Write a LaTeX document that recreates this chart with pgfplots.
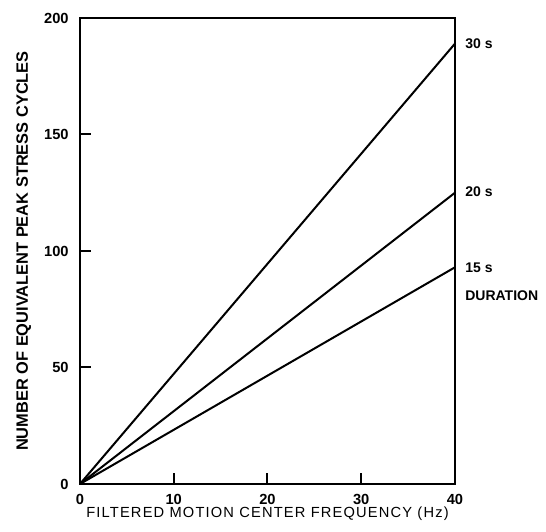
\documentclass[border=0pt]{standalone}
\usepackage{fontspec}
\setmainfont{Liberation Sans}
\usepackage{pgfplots}
\pgfplotsset{compat=1.18}

\begin{document}
\begin{tikzpicture}
\begin{axis}[
  scale only axis,
  width=281.25pt, height=349.5pt,
  xmin=0, xmax=40, ymin=0, ymax=200,
  xtick={0,10,20,30,40}, ytick={0,50,100,150,200},
  tick align=inside,
  xtick pos=bottom, ytick pos=left,
  major tick length=8pt,
  major tick style={line width=1.5pt, black},
  axis line style={line width=1.5pt},
  /pgf/number format/assume math mode=true,
  ticklabel style={font=\bfseries\fontsize{11}{13}\selectfont},
  xticklabel style={yshift=-4pt},
  yticklabel style={xshift=-5pt},
  xlabel={FILTERED MOTION CENTER FREQUENCY (Hz)},
  xlabel style={font=\addfontfeature{LetterSpace=8}\fontsize{11}{13}\selectfont, yshift=5pt},
  ylabel={NUMBER OF EQUIVALENT PEAK STRESS CYCLES},
  ylabel style={font=\bfseries\fontsize{12.3}{14}\selectfont, yshift=3pt},
  clip=false,
]
\path (rel axis cs:-0.2133,-0.1009) rectangle (rel axis cs:1.2427,1.0386);
\addplot[black, line width=1.5pt] coordinates {(0,0) (40,189)};
\addplot[black, line width=1.5pt] coordinates {(0,0) (40,125)};
\addplot[black, line width=1.5pt] coordinates {(0,0) (40,93)};
\node[anchor=west, font=\bfseries\fontsize{10.5}{12}\selectfont] at (axis cs:40.6,189) {30 s};
\node[anchor=west, font=\bfseries\fontsize{10.5}{12}\selectfont] at (axis cs:40.6,125.5) {20 s};
\node[anchor=west, font=\bfseries\fontsize{10.5}{12}\selectfont] at (axis cs:40.6,93) {15 s};
\node[anchor=west, font=\bfseries\fontsize{10.5}{12}\selectfont] at (axis cs:40.6,81) {DURATION};
\end{axis}
\end{tikzpicture}
\end{document}
